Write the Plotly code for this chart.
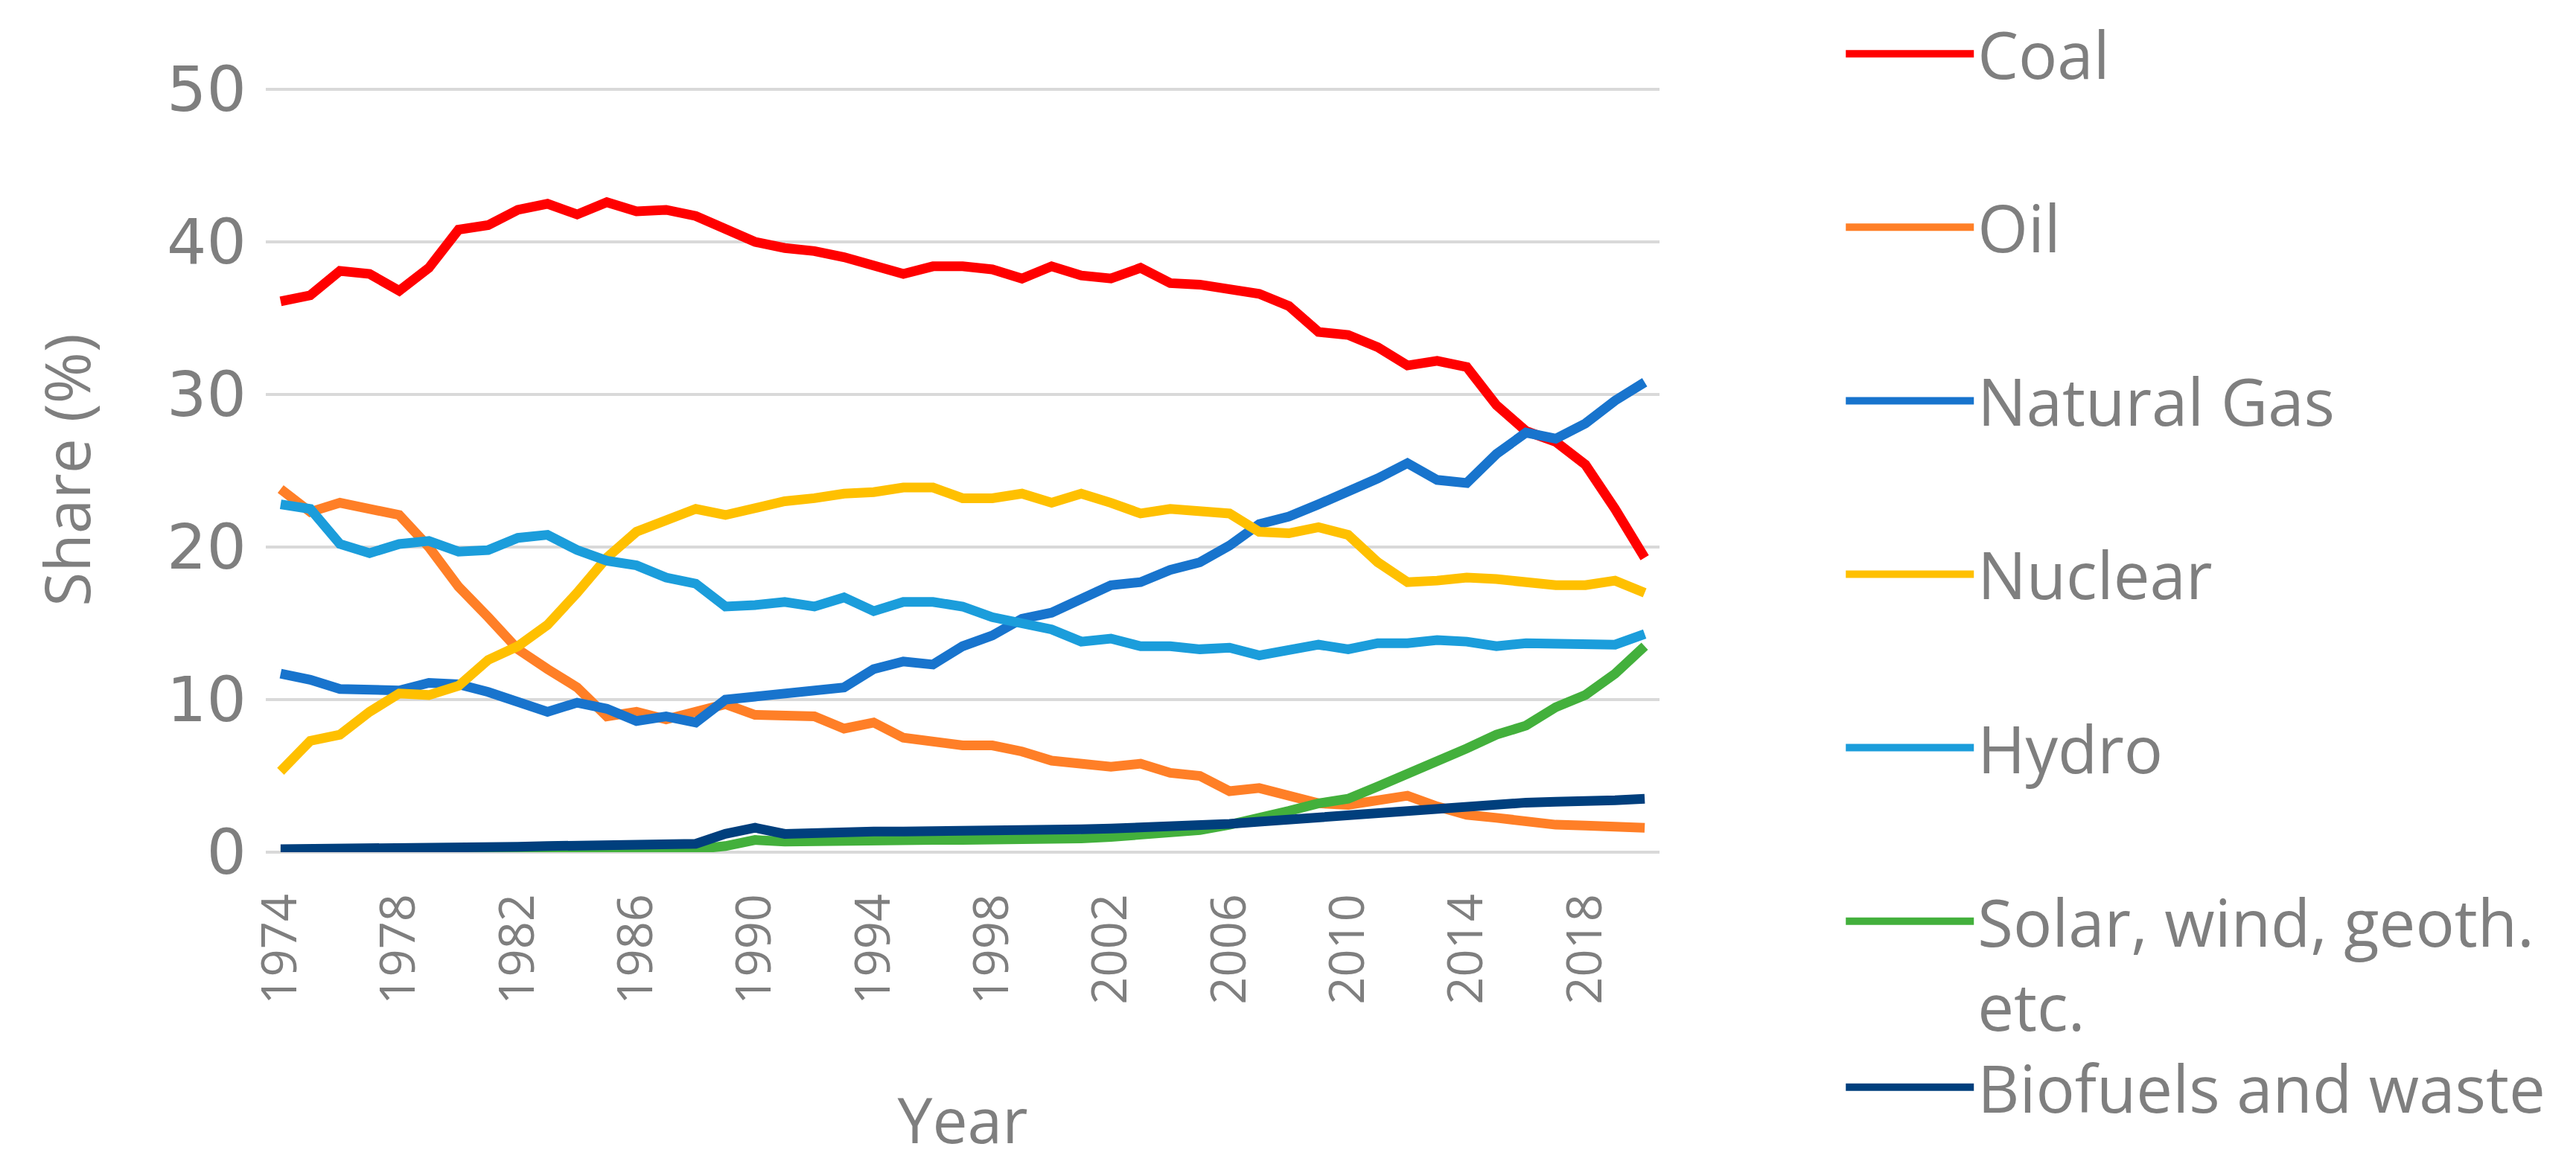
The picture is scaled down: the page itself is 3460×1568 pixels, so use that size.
import plotly.graph_objects as go

years = list(range(1974, 2021))
series_names = ["Coal", "Oil", "Natural Gas", "Nuclear", "Hydro",
                "Solar, wind, geoth.<br>etc.", "Biofuels and waste"]
colors = ["#FF0000", "#FF7F27", "#1874CD", "#FFC000", "#1B9DDB", "#43B03C", "#003F7D"]

coal = [36.1, 36.5, 38.1, 37.9, 36.8, 38.3, 40.8, 41.1, 42.1, 42.5,
        41.8, 42.6, 42.0, 42.1, 41.7, 40.8, 40.0, 39.6, 39.4, 39.0,
        38.4, 37.9, 38.4, 38.4, 38.2, 37.6, 38.4, 37.8, 37.6, 38.3,
        37.3, 37.2, 36.9, 36.6, 35.8, 34.1, 33.9, 33.1, 31.9, 32.2,
        31.8, 29.3, 27.6, 26.9, 25.4, 22.5, 19.3]
oil = [23.8, 22.3, 22.9, 22.5, 22.1, 20.0, 17.4, 15.4, 13.3, 12.0,
       10.8, 8.9, 9.2, 8.7, 9.2, 9.7, 9.0, 8.9, 8.9, 8.1,
       8.5, 7.5, 7.25, 7.0, 7.0, 6.6, 6.0, 5.85, 5.6, 5.8,
       5.2, 5.0, 4.0, 4.2, 3.7, 3.2, 3.1, 3.4, 3.7, 3.0,
       2.45, 2.25, 2.0, 1.8, 1.75, 1.6, 1.6]
gas = [11.7, 11.3, 10.7, 10.6, 10.6, 11.1, 11.0, 10.5, 9.9, 9.2,
       9.8, 9.4, 8.6, 8.9, 8.5, 10.0, 10.2, 10.4, 10.5, 10.8,
       12.0, 12.5, 12.3, 13.5, 14.2, 15.3, 15.7, 16.6, 17.5, 17.7,
       18.5, 19.0, 20.1, 21.5, 22.0, 22.8, 23.6, 24.5, 25.5, 24.4,
       24.2, 26.1, 27.5, 27.1, 28.1, 29.6, 30.8]
nuclear = [5.3, 7.3, 7.7, 9.2, 10.4, 10.3, 10.9, 12.6, 13.5, 14.9,
           17.0, 19.3, 21.0, 21.7, 22.5, 22.1, 22.6, 23.0, 23.2, 23.5,
           23.6, 23.9, 23.9, 23.2, 23.2, 23.5, 22.9, 23.5, 22.9, 22.2,
           22.5, 22.3, 22.2, 21.0, 20.9, 21.3, 20.8, 19.0, 17.7, 17.8,
           18.0, 17.9, 17.7, 17.5, 17.5, 17.8, 17.0]
hydro = [22.8, 22.5, 20.2, 19.6, 20.2, 20.4, 19.7, 19.8, 20.6, 20.8,
         19.8, 19.1, 18.8, 18.0, 17.6, 16.1, 16.2, 16.4, 16.1, 16.7,
         15.8, 16.4, 16.4, 16.1, 15.4, 15.0, 14.6, 13.8, 14.0, 13.5,
         13.5, 13.3, 13.4, 12.9, 13.3, 13.6, 13.3, 13.7, 13.7, 13.9,
         13.8, 13.5, 13.7, 13.7, 13.7, 13.6, 14.3]
solar_wind = [0.0, 0.0, 0.0, 0.0, 0.0, 0.0, 0.0, 0.0, 0.1, 0.1,
              0.1, 0.1, 0.2, 0.2, 0.2, 0.4, 0.8, 0.7, 0.75, 0.75,
              0.8, 0.8, 0.8, 0.8, 0.8, 0.85, 0.9, 0.9, 1.0, 1.1,
              1.25, 1.45, 1.8, 2.2, 2.7, 3.2, 3.5, 4.3, 5.1, 6.0,
              6.8, 7.7, 8.3, 9.5, 10.3, 11.7, 13.5]
biofuels = [0.2, 0.2, 0.2, 0.2, 0.2, 0.2, 0.2, 0.25, 0.35, 0.4,
            0.4, 0.45, 0.5, 0.5, 0.55, 1.2, 1.6, 1.2, 1.3, 1.3,
            1.35, 1.35, 1.35, 1.35, 1.4, 1.4, 1.45, 1.5, 1.55, 1.6,
            1.65, 1.75, 1.85, 2.0, 2.15, 2.35, 2.45, 2.6, 2.8, 2.95,
            3.05, 3.15, 3.25, 3.3, 3.3, 3.4, 3.5]

x_tick_vals = list(range(1974, 2021, 4))
x_tick_text = [str(v) for v in x_tick_vals]
y_tick_vals = [0, 10, 20, 30, 40, 50]

all_series = [coal, oil, gas, nuclear, hydro, solar_wind, biofuels]

GRAY = "#7F7F7F"
FONT = "Open Sans"

fig = go.Figure()
for i, (name, vals, col) in enumerate(zip(series_names, all_series, colors)):
    fig.add_trace(go.Scatter(
        x=years, y=vals, name=name, mode="lines",
        line=dict(color=col, width=13),
        legendgroup=f"g{i}",
        legend="legend2" if i == len(series_names) - 1 else "legend",
    ))

legend_common = dict(
    font=dict(family=FONT, size=87, color=GRAY),
    bgcolor="rgba(0,0,0,0)",
    borderwidth=0,
    xanchor="left", yanchor="top",
    itemwidth=172,
    valign="top",
    maxheight=1500,
)

# the page body adds an 8px offset, so the figure is 8px smaller than the window
fig.update_layout(
    width=3452, height=1560,
    margin=dict(l=349, r=1231, t=110, b=423, autoexpand=False),
    paper_bgcolor="white", plot_bgcolor="white",
    showlegend=True,
    legend=dict(x=1.131, y=1.106, tracegroupgap=117, **legend_common),
    legend2=dict(x=1.131, y=-0.246, **legend_common),
    xaxis=dict(
        range=[1973.5, 2020.5],
        automargin=False,
        tickmode="array", tickvals=x_tick_vals, ticktext=x_tick_text,
        tickangle=-90,
        tickfont=dict(family=FONT, size=65, color=GRAY),
        showgrid=False, zeroline=False, showline=False, ticks="",
        ticklabelstandoff=42,
        title=dict(text="Year", font=dict(family=FONT, size=84, color=GRAY), standoff=128),
    ),
    yaxis=dict(
        range=[0, 50.1],
        automargin=False,
        tickmode="array", tickvals=y_tick_vals,
        tickfont=dict(family="DejaVu Sans", size=84, color=GRAY),
        showgrid=True, gridcolor="#D9D9D9", gridwidth=4,
        zeroline=True, zerolinecolor="#D9D9D9", zerolinewidth=4,
        showline=False, ticks="",
        ticklabelstandoff=25,
        title=dict(text="Share (%)", font=dict(family=FONT, size=84, color=GRAY), standoff=74),
    ),
)

fig.write_html("out.html")
